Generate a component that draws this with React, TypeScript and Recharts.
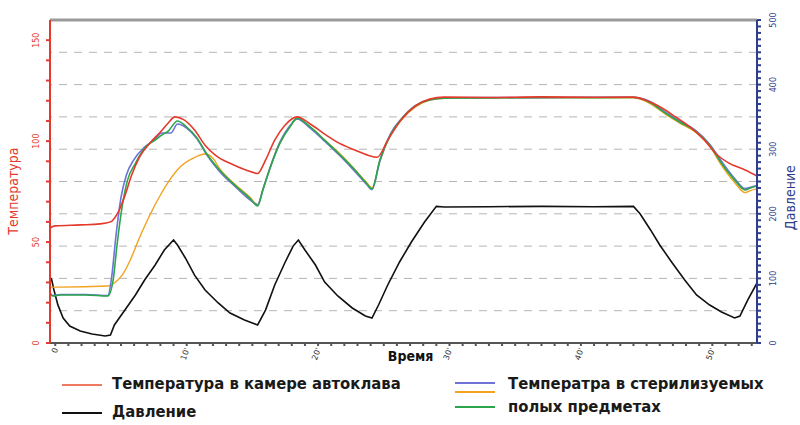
import React from 'react';
import { LineChart, Line, XAxis, YAxis, ReferenceLine } from 'recharts';

// Chamber temperature, °C over minutes
const chamberTime = [-0.4, 0, 1.9, 3.4, 4.2, 4.8, 5.3, 5.8, 6.4, 7.2, 8.0, 8.6, 9.1, 9.8, 10.6, 11.4, 12.2, 13.3, 14.5, 15.4, 16.0, 16.7, 17.5, 18.4, 19.4, 20.5, 21.6, 22.8, 23.8, 24.5, 25.3, 26.2, 27.4, 28.5, 29.6, 33, 37, 41, 44.0, 44.9, 46.0, 47.2, 48.3, 49.4, 50.4, 51.3, 52.5, 53.4];
const chamberTemp = [57, 58, 58.5, 59, 60, 65, 73, 83, 92, 99, 104.5, 109, 112, 110.5, 105.5, 98, 93, 89, 85.7, 84, 90.6, 100.5, 108, 112, 108.5, 103.5, 99, 95.6, 93, 92, 100.5, 109.5, 117.4, 120.8, 121.8, 121.6, 121.9, 121.7, 121.8, 120.4, 117, 112, 107, 100.5, 93, 89, 85.7, 82.7];

// Load temperature, green probe
const greenTime = [-0.4, -0.2, 0.4, 2.3, 4.0, 4.4, 4.7, 5.1, 5.5, 6.1, 6.8, 7.6, 8.1, 8.6, 9.3, 10.0, 10.8, 11.5, 12.5, 13.7, 14.8, 15.4, 15.8, 16.3, 17.1, 17.9, 18.4, 19.4, 20.5, 21.7, 22.8, 23.7, 24.1, 24.7, 25.5, 26.4, 27.4, 28.5, 29.6, 33, 37, 41, 44.0, 45.3, 46.4, 47.5, 48.7, 49.8, 50.7, 51.7, 52.5, 52.9, 53.4];
const greenTemp = [25, 23.3, 23.8, 23.8, 23.3, 31, 48.5, 68, 80.7, 89, 96.6, 100.5, 103, 105, 110, 107, 101.5, 94, 85.7, 78, 71.8, 67.9, 75.8, 85.7, 99, 107.5, 111.4, 107, 100.5, 93, 85.7, 79, 76.3, 90.6, 103, 111.4, 117.4, 120.4, 121.3, 121.4, 121.6, 121.5, 121.6, 119, 114, 109.5, 105, 98, 89, 80.7, 75.8, 76.8, 77.8];

// Load temperature, blue probe
const blueTime = [-0.4, -0.2, 0.4, 2.3, 4.0, 4.3, 4.6, 5.0, 5.4, 6.0, 6.8, 7.6, 8.1, 8.8, 9.3, 10.0, 10.8, 11.5, 12.5, 13.7, 14.8, 15.4, 15.8, 16.3, 17.1, 17.9, 18.4, 19.4, 20.5, 21.7, 22.8, 23.7, 24.1, 24.7, 25.5, 26.4, 27.4, 28.5, 29.6, 33, 37, 41, 44.0, 45.3, 46.4, 47.5, 48.7, 49.8, 50.7, 51.7, 52.5, 52.9, 53.4];
const blueTemp = [24.5, 23.5, 24, 24, 23.5, 33, 52, 72, 83, 91, 97, 101, 104, 104, 108.5, 106.5, 101, 93.5, 85, 77.5, 71, 68.5, 76, 86, 99.5, 108, 111, 106.5, 100, 92.5, 85, 78.5, 76, 90, 103.5, 111.5, 117.6, 120.6, 121.4, 121.6, 121.5, 121.7, 121.7, 119.5, 114.5, 110, 105.5, 98.5, 90, 81.5, 76.5, 77.2, 78];

// Load temperature, orange probe
const orangeTime = [-0.4, 0.4, 4.0, 4.5, 5.1, 5.7, 6.4, 7.2, 8.0, 8.7, 9.5, 10.5, 11.4, 12.0, 12.5, 13.7, 14.8, 15.4, 15.8, 16.3, 17.1, 17.9, 18.4, 19.4, 20.5, 21.7, 22.8, 23.7, 24.1, 24.7, 25.5, 26.4, 27.4, 28.5, 29.6, 33, 37, 41, 44.0, 45.3, 46.4, 47.5, 48.7, 49.8, 50.7, 51.7, 52.5, 52.9, 53.4];
const orangeTemp = [27.7, 27.7, 28.2, 29.7, 33.7, 41, 52, 63.4, 73.3, 80.7, 87.2, 91.6, 93.6, 91.5, 86.5, 78.5, 72.3, 68.5, 76, 86, 99.5, 107.5, 111, 107, 100.5, 93.5, 86, 79.5, 76.8, 90, 103, 111, 117, 120.3, 121.2, 121.4, 121.5, 121.4, 121.5, 118.5, 113.5, 109, 104.5, 97.5, 88, 79.5, 74.5, 75.5, 76.5];

// Chamber pressure, kPa
const pressureTime = [-0.3, -0.1, 0.2, 0.6, 1.1, 1.9, 2.8, 3.8, 4.2, 4.5, 5.3, 6.1, 6.8, 7.6, 8.3, 9.0, 9.3, 9.9, 10.6, 11.4, 12.4, 13.3, 14.4, 15.4, 16.0, 16.7, 17.5, 18.1, 18.5, 19.0, 19.8, 20.5, 21.5, 22.6, 23.6, 24.1, 24.6, 25.3, 26.2, 27.1, 28.1, 29.0, 29.6, 33, 37, 41, 44.0, 44.5, 45.3, 46.0, 46.9, 47.9, 48.8, 49.8, 50.7, 51.7, 52.1, 52.7, 53.4];
const pressureValue = [100.6, 82, 59, 38.7, 26.3, 18.6, 14, 10.8, 12.4, 27.9, 51, 74.3, 97.5, 120.7, 144, 159.4, 151.7, 131.6, 105, 82, 62, 46.4, 35.6, 27.9, 51, 89.8, 125.4, 150, 159.4, 144, 120.7, 94.4, 72.8, 54.2, 41.8, 38.7, 58.8, 89.8, 125.4, 156.3, 187.3, 211.5, 210.5, 211, 211.5, 211, 211.5, 200, 175, 151.7, 125.4, 97.5, 74.3, 58.8, 48, 38.7, 41.8, 66.6, 92.9];

const timeLabels = [0, 10, 20, 30, 40, 50];
const tempLabels = [0, 50, 100, 150];
const pressureLabels = [0, 100, 200, 300, 400, 500];
const pressureGrid = [50, 100, 150, 200, 250, 300, 350, 400, 450];

const RED = '#e4392b';
const NAVY = '#2e3d8c';
const BLUE = '#6f72d6';
const ORANGE = '#f2a21e';
const GREEN = '#2ca64c';
const FONT = "'DejaVu Sans', sans-serif";
const LEGEND_FONT = "'DejaVu Sans Condensed', 'DejaVu Sans', sans-serif";

const zip = (xs: number[], ys: number[]) => xs.map((t, i) => ({ t, v: ys[i] }));

const chamberData = zip(chamberTime, chamberTemp);
const greenData = zip(greenTime, greenTemp);
const blueData = zip(blueTime, blueTemp);
const orangeData = zip(orangeTime, orangeTemp);
const pressureData = zip(pressureTime, pressureValue);

const minuteTicks = Array.from({ length: 54 }, (_, i) => i);
const tempTicks = Array.from({ length: 16 }, (_, i) => i * 10);
const pressureTicks = Array.from({ length: 51 }, (_, i) => i * 10);

const TimeTick = (props: any) => {
  const { x, y, payload } = props;
  if (!timeLabels.includes(payload.value)) return <g />;
  return (
    <text x={x + 3} y={y + 1} transform={`rotate(-70 ${x + 3} ${y + 1})`} textAnchor="end" fontSize={8} fill="#333" fontFamily={FONT}>
      {payload.value === 0 ? '0' : `${payload.value}'`}
    </text>
  );
};

const TempTick = (props: any) => {
  const { x, y, payload } = props;
  if (!tempLabels.includes(payload.value)) return <g />;
  return (
    <text x={x} y={y} transform={`rotate(-90 ${x} ${y})`} textAnchor="middle" fontSize={8} fill={RED} fontFamily={FONT}>
      {payload.value}
    </text>
  );
};

const PressureTick = (props: any) => {
  const { x, y, payload } = props;
  if (!pressureLabels.includes(payload.value)) return <g />;
  return (
    <text x={x + 6} y={y} transform={`rotate(-90 ${x + 6} ${y})`} textAnchor="middle" fontSize={8} fill={NAVY} fontFamily={FONT}>
      {payload.value}
    </text>
  );
};

const legendText: React.CSSProperties = {
  position: 'absolute',
  fontFamily: LEGEND_FONT,
  fontWeight: 'bold',
  fontSize: 16.5,
  color: '#1a1a1a',
  whiteSpace: 'nowrap',
  lineHeight: '20px',
};

const swatch = (left: number, top: number, color: string): React.CSSProperties => ({
  position: 'absolute',
  left,
  top,
  width: 40,
  height: 2,
  background: color,
});

export default function App() {
  return (
    <div style={{ position: 'absolute', left: 0, top: 0, width: 800, height: 425, background: '#fff', overflow: 'hidden' }}>
      <LineChart width={800} height={425} margin={{ top: 20, right: 3, left: 20, bottom: 52 }}>
        <XAxis
          xAxisId="t"
          dataKey="t"
          type="number"
          domain={[-0.4, 53.4]}
          ticks={minuteTicks}
          interval={0}
          allowDataOverflow
          height={30}
          stroke="#555"
          strokeWidth={2}
          tickSize={3}
          tick={<TimeTick />}
          label={(p: any) => {
            const vb = p.viewBox;
            return (
              <text x={vb.x + vb.width * 0.51} y={vb.y + 18} textAnchor="middle" fontSize={14} fontWeight="bold" fill="#111" fontFamily={LEGEND_FONT}>
                Время
              </text>
            );
          }}
        />
        <YAxis
          yAxisId="temp"
          orientation="left"
          dataKey="v"
          type="number"
          domain={[0, 160]}
          ticks={tempTicks}
          interval={0}
          width={30}
          stroke={RED}
          strokeWidth={2}
          tickSize={4}
          tickMargin={7}
          tick={<TempTick />}
          label={(p: any) => {
            const vb = p.viewBox;
            const cx = vb.x - 2;
            const cy = vb.y + vb.height * 0.53;
            return (
              <text x={cx} y={cy} transform={`rotate(-90 ${cx} ${cy})`} textAnchor="middle" fontSize={14} fill={RED} fontFamily={LEGEND_FONT}>
                Температура
              </text>
            );
          }}
        />
        <YAxis
          yAxisId="p"
          orientation="right"
          dataKey="v"
          type="number"
          domain={[0, 500]}
          ticks={pressureTicks}
          interval={0}
          width={40}
          stroke={NAVY}
          strokeWidth={2}
          tickSize={4}
          tickMargin={9}
          tick={<PressureTick />}
          label={(p: any) => {
            const vb = p.viewBox;
            const cx = vb.x + 38;
            const cy = vb.y + vb.height * 0.55;
            return (
              <text x={cx} y={cy} transform={`rotate(-90 ${cx} ${cy})`} textAnchor="middle" fontSize={14} fill={NAVY} fontFamily={LEGEND_FONT}>
                Давление
              </text>
            );
          }}
        />
        {pressureGrid.map((g) => (
          <ReferenceLine key={g} xAxisId="t" yAxisId="p" y={g} stroke="#b5b5b5" strokeDasharray="8 7" strokeWidth={1} />
        ))}
        <ReferenceLine xAxisId="t" yAxisId="p" y={500} stroke="#9a9a9a" strokeWidth={3} />
        <Line xAxisId="t" yAxisId="p" data={pressureData} dataKey="v" type="linear" stroke="#111" strokeWidth={1.6} dot={false} isAnimationActive={false} />
        <Line xAxisId="t" yAxisId="temp" data={orangeData} dataKey="v" type="monotone" stroke={ORANGE} strokeWidth={1.4} dot={false} isAnimationActive={false} />
        <Line xAxisId="t" yAxisId="temp" data={blueData} dataKey="v" type="monotone" stroke={BLUE} strokeWidth={1.6} dot={false} isAnimationActive={false} />
        <Line xAxisId="t" yAxisId="temp" data={greenData} dataKey="v" type="monotone" stroke={GREEN} strokeWidth={1.6} dot={false} isAnimationActive={false} />
        <Line xAxisId="t" yAxisId="temp" data={chamberData} dataKey="v" type="monotone" stroke={RED} strokeWidth={1.6} dot={false} isAnimationActive={false} />
      </LineChart>

      <div style={swatch(62, 384, '#f07a60')} />
      <div style={{ ...legendText, left: 112, top: 374 }}>Температура в камере автоклава</div>
      <div style={swatch(62, 412, '#111')} />
      <div style={{ ...legendText, left: 112, top: 402 }}>Давление</div>

      <div style={swatch(455, 382, BLUE)} />
      <div style={swatch(455, 391, ORANGE)} />
      <div style={swatch(455, 406, GREEN)} />
      <div style={{ ...legendText, left: 508, top: 374 }}>Температра в стерилизуемых</div>
      <div style={{ ...legendText, left: 508, top: 397 }}>полых предметах</div>
    </div>
  );
}
